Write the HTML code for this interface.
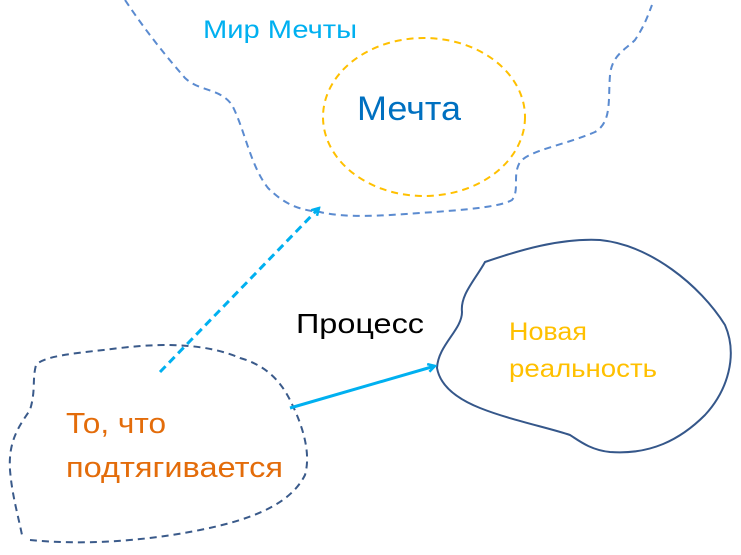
<!DOCTYPE html>
<html><head><meta charset="utf-8"><style>
html,body{margin:0;padding:0;background:#fff;width:741px;height:555px;overflow:hidden}
svg{display:block}
text{font-family:"Liberation Sans","DejaVu Sans",sans-serif}
</style></head><body>
<svg width="741" height="555" viewBox="0 0 741 555">
<defs>
<marker id="ah" markerWidth="10" markerHeight="10" refX="8" refY="5" orient="auto" markerUnits="userSpaceOnUse">
<path d="M1,1 L8,5 L1,9" fill="none" stroke="#00b0f0" stroke-width="2.5"/>
</marker>
</defs>
<path d="M125,0 C145,30 165,55 185,78 C200,92 220,88 232,105 C245,130 250,165 268,188 C285,205 300,210 320,212 C345,218 380,216 420,213 C465,210 500,207 512,200 C520,190 512,175 520,162 C530,150 565,145 595,132 C612,122 608,100 610,75 C612,55 625,50 635,40 C645,25 648,15 652,5" fill="none" stroke="#5b8bd0" stroke-width="2" stroke-dasharray="7,5"/>
<ellipse cx="424" cy="117" rx="101" ry="79" fill="none" stroke="#ffc000" stroke-width="2" stroke-dasharray="7,5"/>
<path d="M30,540 C80,545 140,542 200,530 C250,520 290,505 305,475 C312,450 300,420 290,400 C280,380 265,365 240,358 C210,345 170,342 120,348 C80,353 45,355 36,365 C32,380 36,390 30,410 C20,425 8,440 10,470 C12,495 18,515 22,535" fill="none" stroke="#3a5a8a" stroke-width="2" stroke-dasharray="7,5"/>
<path d="M485,262 C520,250 560,238 600,240 C650,245 700,285 725,325 C738,355 728,390 705,415 C680,440 650,455 610,452 C590,450 578,440 570,435 C550,428 510,420 480,408 C455,398 440,385 437,368 C438,345 462,330 462,312 C460,295 475,280 485,262 Z" fill="none" stroke="#35578a" stroke-width="2"/>
<line x1="160" y1="372" x2="319" y2="208" stroke="#00b0f0" stroke-width="3" stroke-dasharray="8,5" marker-end="url(#ah)"/>
<line x1="290" y1="408" x2="435" y2="366" stroke="#00b0f0" stroke-width="3" marker-end="url(#ah)"/>
<text x="203" y="38" font-size="25" fill="#00b0f0" textLength="154" lengthAdjust="spacingAndGlyphs">Мир Мечты</text>
<text x="357" y="120" font-size="34" fill="#0070c0" textLength="104" lengthAdjust="spacingAndGlyphs">Мечта</text>
<text x="296" y="333" font-size="28" fill="#000" textLength="128" lengthAdjust="spacingAndGlyphs">Процесс</text>
<text x="509" y="340" font-size="25" fill="#ffc000" textLength="78" lengthAdjust="spacingAndGlyphs">Новая</text>
<text x="509" y="377" font-size="25" fill="#ffc000" textLength="148" lengthAdjust="spacingAndGlyphs">реальность</text>
<text x="66" y="433" font-size="29" fill="#e36c0a" textLength="100" lengthAdjust="spacingAndGlyphs">То, что</text>
<text x="66" y="477" font-size="29" fill="#e36c0a" textLength="217" lengthAdjust="spacingAndGlyphs">подтягивается</text>
</svg>
</body></html>
